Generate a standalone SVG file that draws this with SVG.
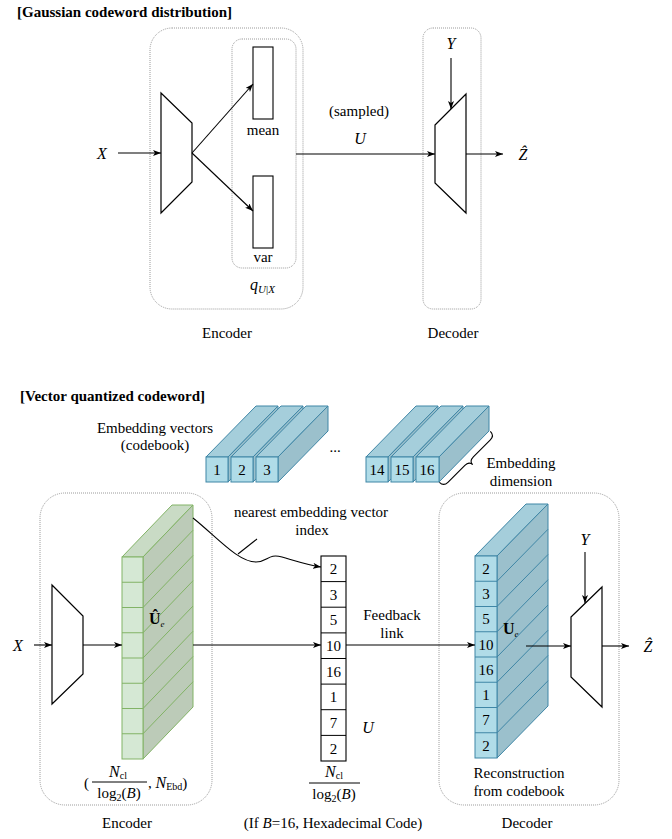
<svg xmlns="http://www.w3.org/2000/svg" width="672" height="839" viewBox="0 0 672 839">
<style>
.t{font-family:"Liberation Serif","Times New Roman",serif;font-size:15px;fill:#000}
.c{text-anchor:middle}
.m{font-family:"Liberation Serif","DejaVu Serif",serif;font-size:16px;font-style:italic;fill:#000}
.b{font-family:"Liberation Serif","Times New Roman",serif;font-size:15px;font-weight:bold;fill:#000}
.box{fill:none;stroke:#9a9a9a;stroke-width:1;stroke-dasharray:1 1}
.ln{fill:none;stroke:#000;stroke-width:1.1}
.trap{fill:#fff;stroke:#000;stroke-width:1.2}
.rect{fill:#fff;stroke:#000;stroke-width:1.1}
.gf{fill:#d5e8d4;stroke:#82b366;stroke-width:1}
.gt{fill:#c9dbc5;stroke:#82b366;stroke-width:1}
.gs{fill:#bccbb8;stroke:#82b366;stroke-width:1}
.bf{fill:#b0dce8;stroke:#3f86a6;stroke-width:1}
.bt{fill:#a5cedb;stroke:#3f86a6;stroke-width:1}
.bs{fill:#9bc0cc;stroke:#3f86a6;stroke-width:1}
</style>
<defs>
<marker id="ar" markerUnits="userSpaceOnUse" markerWidth="9" markerHeight="7" refX="8" refY="3" orient="auto">
<path d="M0,0 L8,3 L0,6 L2,3 z" fill="#000"/>
</marker>
</defs>

<!-- ===== Top section ===== -->
<text class="b" x="17" y="17">[Gaussian codeword distribution]</text>

<g id="enc-top">
<rect class="box" x="150" y="28" width="153" height="281" rx="22"/>
<text class="t c" x="227" y="338">Encoder</text>
</g>
<g id="q-box">
<rect class="box" x="232" y="39" width="64" height="229" rx="10"/>
<text class="m" x="250" y="290">q<tspan font-size="11" dy="3">U</tspan><tspan font-size="11" font-style="normal">|</tspan><tspan font-size="11">X</tspan></text>
</g>
<g id="enc-trap-top">
<polygon class="trap" points="161,93 192,123 192,182 161,213"/>
</g>
<g id="mean">
<rect class="rect" x="253" y="47" width="20" height="72"/>
<text class="t c" x="263" y="135">mean</text>
</g>
<g id="var">
<rect class="rect" x="253" y="176" width="20" height="72"/>
<text class="t c" x="263" y="262">var</text>
</g>
<g id="dec-top">
<rect class="box" x="423" y="28" width="58" height="281" rx="10"/>
<polygon class="trap" points="435,125 466,94 466,213 435,183"/>
<text class="t c" x="453" y="338">Decoder</text>
</g>
<g id="labels-top">
<text class="m c" x="102" y="159">X</text>
<text class="m c" x="451" y="49">Y</text>
<text class="t c" x="359" y="116">(sampled)</text>
<text class="m c" x="360" y="144">U</text>
<text class="m c" x="523" y="160">Ẑ</text>
</g>

<!-- ===== Bottom section ===== -->
<text class="b" x="20" y="401">[Vector quantized codeword]</text>

<g id="codebook">
<text class="t c" x="155" y="433">Embedding vectors</text>
<text class="t c" x="155" y="450">(codebook)</text>
<g id="cb1"><polygon class="bt" points="206,457 228,457 278,406 256,406"/><polygon class="bs" points="228,457 278,406 278,431 228,482"/><rect class="bf" x="206" y="457" width="22" height="25"/><text class="t c" x="217" y="475">1</text></g>
<g id="cb2"><polygon class="bt" points="231,457 253,457 303,406 281,406"/><polygon class="bs" points="253,457 303,406 303,431 253,482"/><rect class="bf" x="231" y="457" width="22" height="25"/><text class="t c" x="242" y="475">2</text></g>
<g id="cb3"><polygon class="bt" points="256,457 278,457 328,406 306,406"/><polygon class="bs" points="278,457 328,406 328,431 278,482"/><rect class="bf" x="256" y="457" width="22" height="25"/><text class="t c" x="267" y="475">3</text></g>
<text class="t c" x="335" y="452">...</text>
<g id="cb14"><polygon class="bt" points="366,457 388,457 438,406 416,406"/><polygon class="bs" points="388,457 438,406 438,431 388,482"/><rect class="bf" x="366" y="457" width="22" height="25"/><text class="t c" x="377" y="475">14</text></g>
<g id="cb15"><polygon class="bt" points="391,457 413,457 463,406 441,406"/><polygon class="bs" points="413,457 463,406 463,431 413,482"/><rect class="bf" x="391" y="457" width="22" height="25"/><text class="t c" x="402" y="475">15</text></g>
<g id="cb16"><polygon class="bt" points="416,457 439,457 489,406 466,406"/><polygon class="bs" points="439,457 489,406 489,431 439,482"/><rect class="bf" x="416" y="457" width="23" height="25"/><text class="t c" x="427" y="475">16</text></g>
<path class="ln" transform="translate(467,459) rotate(-45)" d="M-36,-3 Q-36,3 -30,3 L-6,3 Q0,3 0,8 Q0,3 6,3 L30,3 Q36,3 36,-3"/>
<text class="t c" x="521" y="468">Embedding</text>
<text class="t c" x="521" y="486">dimension</text>
</g>

<g id="enc-bot">
<rect class="box" x="40" y="493" width="172" height="312" rx="25"/>
<polygon class="trap" points="52,585 83,616 83,674 52,704"/>
<g id="ue-hat">
<polygon class="gt" points="122,557 143,557 193,505 172,505"/>
<polygon class="gs" points="143,557 193,505 193,707 143,759"/>
<rect class="gf" x="122" y="557" width="21" height="202"/>
<g stroke="#82b366" stroke-width="1">
<line x1="122" y1="582.25" x2="143" y2="582.25"/><line x1="143" y1="582.25" x2="193" y2="530.25"/>
<line x1="122" y1="607.5" x2="143" y2="607.5"/><line x1="143" y1="607.5" x2="193" y2="555.5"/>
<line x1="122" y1="632.75" x2="143" y2="632.75"/><line x1="143" y1="632.75" x2="193" y2="580.75"/>
<line x1="122" y1="658" x2="143" y2="658"/><line x1="143" y1="658" x2="193" y2="606"/>
<line x1="122" y1="683.25" x2="143" y2="683.25"/><line x1="143" y1="683.25" x2="193" y2="631.25"/>
<line x1="122" y1="708.5" x2="143" y2="708.5"/><line x1="143" y1="708.5" x2="193" y2="656.5"/>
<line x1="122" y1="733.75" x2="143" y2="733.75"/><line x1="143" y1="733.75" x2="193" y2="681.75"/>
</g>
<text x="149" y="624" font-family="Liberation Serif,serif" font-size="16" font-weight="bold">Û<tspan font-size="9" font-weight="normal" font-style="italic" dy="3">e</tspan></text>
</g>
<text class="t" x="84" y="788">(</text>
<text class="m c" x="118" y="777">N<tspan font-size="10" font-style="normal" dy="2">cl</tspan></text>
<line x1="92" y1="782" x2="147" y2="782" stroke="#000" stroke-width="1"/>
<text class="t c" x="119" y="798">log<tspan font-size="10" dy="3">2</tspan><tspan dy="-3">(</tspan><tspan font-style="italic">B</tspan>)</text>
<text class="t" x="148" y="788">, <tspan font-style="italic" font-size="16">N</tspan><tspan font-size="10" dy="2">Ebd</tspan><tspan dy="-2">)</tspan></text>
<text class="t c" x="127" y="828">Encoder</text>
</g>

<g id="index">
<rect class="rect" x="321" y="556" width="25" height="205"/>
<g stroke="#000" stroke-width="1">
<line x1="321" y1="581.6" x2="346" y2="581.6"/><line x1="321" y1="607.2" x2="346" y2="607.2"/>
<line x1="321" y1="632.9" x2="346" y2="632.9"/><line x1="321" y1="658.5" x2="346" y2="658.5"/>
<line x1="321" y1="684.1" x2="346" y2="684.1"/><line x1="321" y1="709.7" x2="346" y2="709.7"/>
<line x1="321" y1="735.4" x2="346" y2="735.4"/>
</g>
<g class="t c">
<text class="t c" x="333.5" y="574">2</text><text class="t c" x="333.5" y="600">3</text>
<text class="t c" x="333.5" y="625">5</text><text class="t c" x="333.5" y="651">10</text>
<text class="t c" x="333.5" y="677">16</text><text class="t c" x="333.5" y="702">1</text>
<text class="t c" x="333.5" y="728">7</text><text class="t c" x="333.5" y="754">2</text>
</g>
<text class="m c" x="334" y="777">N<tspan font-size="10" font-style="normal" dy="2">cl</tspan></text>
<line x1="309" y1="783" x2="360" y2="783" stroke="#000" stroke-width="1"/>
<text class="t c" x="334" y="799">log<tspan font-size="10" dy="3">2</tspan><tspan dy="-3">(</tspan><tspan font-style="italic">B</tspan>)</text>
<text class="m c" x="368" y="733">U</text>
<text class="t c" x="333" y="828">(If <tspan font-style="italic">B</tspan>=16, Hexadecimal Code)</text>
</g>

<g id="dec-bot">
<rect class="box" x="439" y="493" width="180" height="312" rx="25"/>
<g id="ue">
<polygon class="bt" points="475,556 497,556 548,504 526,504"/>
<polygon class="bs" points="497,556 548,504 548,706 497,758"/>
<rect class="bf" x="475" y="556" width="22" height="202"/>
<g stroke="#3f86a6" stroke-width="1">
<line x1="475" y1="581.25" x2="497" y2="581.25"/><line x1="497" y1="581.25" x2="548" y2="529.25"/>
<line x1="475" y1="606.5" x2="497" y2="606.5"/><line x1="497" y1="606.5" x2="548" y2="554.5"/>
<line x1="475" y1="631.75" x2="497" y2="631.75"/><line x1="497" y1="631.75" x2="548" y2="579.75"/>
<line x1="475" y1="657" x2="497" y2="657"/><line x1="497" y1="657" x2="548" y2="605"/>
<line x1="475" y1="682.25" x2="497" y2="682.25"/><line x1="497" y1="682.25" x2="548" y2="630.25"/>
<line x1="475" y1="707.5" x2="497" y2="707.5"/><line x1="497" y1="707.5" x2="548" y2="655.5"/>
<line x1="475" y1="732.75" x2="497" y2="732.75"/><line x1="497" y1="732.75" x2="548" y2="680.75"/>
</g>
<text class="t c" x="486" y="574">2</text><text class="t c" x="486" y="599">3</text>
<text class="t c" x="486" y="624">5</text><text class="t c" x="486" y="650">10</text>
<text class="t c" x="486" y="675">16</text><text class="t c" x="486" y="700">1</text>
<text class="t c" x="486" y="725">7</text><text class="t c" x="486" y="751">2</text>
<text x="503" y="634" font-family="Liberation Serif,serif" font-size="16" font-weight="bold">U<tspan font-size="9" font-weight="normal" font-style="italic" dy="3">e</tspan></text>
</g>
<polygon class="trap" points="571,617 602,587 602,707 571,677"/>
<text class="t c" x="519" y="778">Reconstruction</text>
<text class="t c" x="519" y="796">from codebook</text>
<text class="t c" x="527" y="828">Decoder</text>
</g>

<g id="labels-bot">
<text class="m c" x="18" y="651">X</text>
<text class="m c" x="585" y="545">Y</text>
<text class="m c" x="648" y="652">Ẑ</text>
<text class="t c" x="311" y="517">nearest embedding vector</text>
<text class="t c" x="312" y="535">index</text>
<text class="t c" x="392" y="620">Feedback</text>
<text class="t c" x="392" y="638">link</text>
</g>

<g id="connectors">
<line class="ln" x1="118" y1="153" x2="161" y2="153" marker-end="url(#ar)"/>
<line class="ln" x1="192" y1="153" x2="253" y2="84" marker-end="url(#ar)"/>
<line class="ln" x1="192" y1="153" x2="253" y2="211" marker-end="url(#ar)"/>
<line class="ln" x1="296" y1="154" x2="435" y2="154" marker-end="url(#ar)"/>
<line class="ln" x1="451" y1="58" x2="451" y2="109" marker-end="url(#ar)"/>
<line class="ln" x1="466" y1="154" x2="503" y2="154" marker-end="url(#ar)"/>

<line class="ln" x1="34" y1="645" x2="52" y2="645" marker-end="url(#ar)"/>
<line class="ln" x1="83" y1="645" x2="122" y2="645" marker-end="url(#ar)"/>
<line class="ln" x1="193" y1="645" x2="321" y2="645" marker-end="url(#ar)"/>
<path class="ln" d="M193,518 C218,538 238,562 256,562 C268,562 268,553 282,557 C296,561 308,565 321,567" marker-end="url(#ar)"/>
<line class="ln" x1="238" y1="554" x2="257" y2="539"/>
<line class="ln" x1="346" y1="645" x2="475" y2="645" marker-end="url(#ar)"/>
<line class="ln" x1="526" y1="646" x2="571" y2="646" marker-end="url(#ar)"/>
<line class="ln" x1="585" y1="552" x2="585" y2="603" marker-end="url(#ar)"/>
<line class="ln" x1="602" y1="646" x2="629" y2="646" marker-end="url(#ar)"/>
</g>
</svg>
